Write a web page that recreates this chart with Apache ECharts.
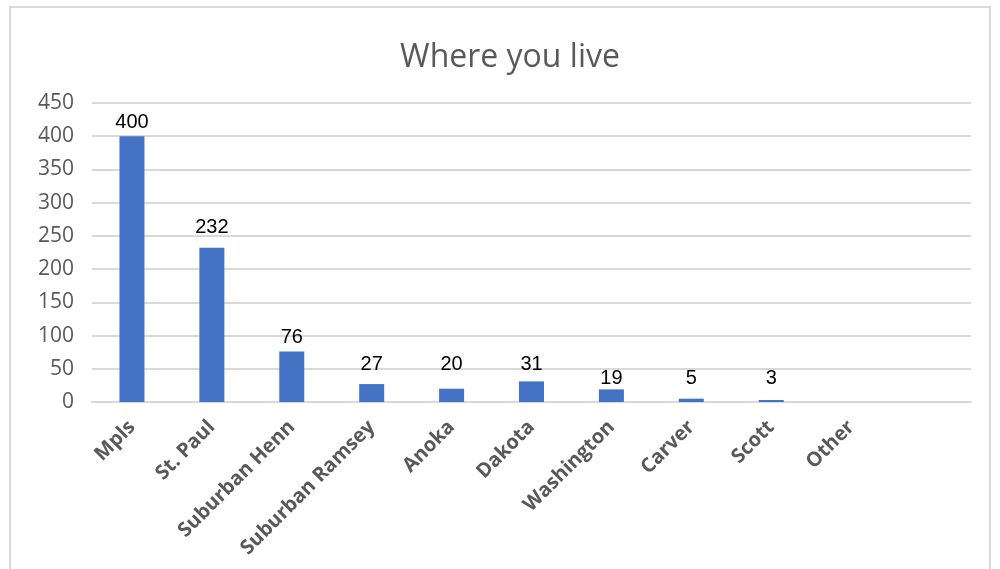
<!DOCTYPE html>
<html>
<head>
<meta charset="utf-8">
<script src="https://cdn.jsdelivr.net/npm/echarts@6/dist/echarts.min.js"></script>
<style>
  html, body { margin: 0; padding: 0; background: #ffffff; }
  #chart { width: 1000px; height: 569px; }
</style>
</head>
<body>
<div id="chart"></div>
<script>
// Survey responses by area of residence
const categories = ['Mpls', 'St. Paul', 'Suburban Henn', 'Suburban Ramsey', 'Anoka',
                    'Dakota', 'Washington', 'Carver', 'Scott', 'Other'];
const counts = [400, 232, 76, 27, 20, 31, 19, 5, 3, null];
const yTicks = [0, 50, 100, 150, 200, 250, 300, 350, 400, 450];

// extra lift (px) for a few value labels so they sit on a common row
const labelLift = [0, 6, 0, 6, 10, 3, -3, 6, 8, 0];

const axisGray = '#595959';
const gridGray = '#d9d9d9';

const chart = echarts.init(document.getElementById('chart'));

const axisCats = categories.concat(['']);
const barData = counts.map((v, i) => ({
  value: v,
  label: { offset: [0, -labelLift[i]] }
}));

chart.setOption({
  animation: false,
  title: {
    text: 'Where you live',
    left: 505,
    top: 37,
    textAlign: 'center',
    textStyle: { fontFamily: 'Open Sans', fontWeight: 400, fontSize: 32, color: axisGray }
  },
  graphic: [{
    type: 'rect',
    shape: { x: 10, y: 7, width: 980, height: 620 },
    style: { fill: 'none', stroke: gridGray, lineWidth: 2 },
    silent: true
  }],
  grid: { left: 92, right: 29, top: 103, bottom: 167 },
  xAxis: {
    type: 'category',
    data: axisCats,
    axisLine: { lineStyle: { color: gridGray, width: 2 } },
    axisTick: { show: false },
    axisLabel: {
      rotate: 45,
      interval: 0,
      margin: 22,
      color: axisGray,
      fontFamily: 'Open Sans',
      fontWeight: 700,
      fontSize: 20
    }
  },
  yAxis: {
    type: 'value',
    min: yTicks[0],
    max: yTicks[yTicks.length - 1],
    interval: yTicks[1] - yTicks[0],
    axisLine: { show: false },
    axisTick: { show: false },
    splitLine: { lineStyle: { color: gridGray, width: 2 } },
    axisLabel: {
      margin: 18,
      color: axisGray,
      fontFamily: 'Open Sans',
      fontSize: 21
    }
  },
  series: [{
    type: 'bar',
    data: barData,
    barWidth: 25,
    itemStyle: { color: '#4472C4' },
    label: {
      show: true,
      position: 'top',
      distance: 4,
      color: '#000000',
      fontFamily: 'Liberation Sans',
      fontSize: 20
    }
  }]
});
</script>
</body>
</html>
